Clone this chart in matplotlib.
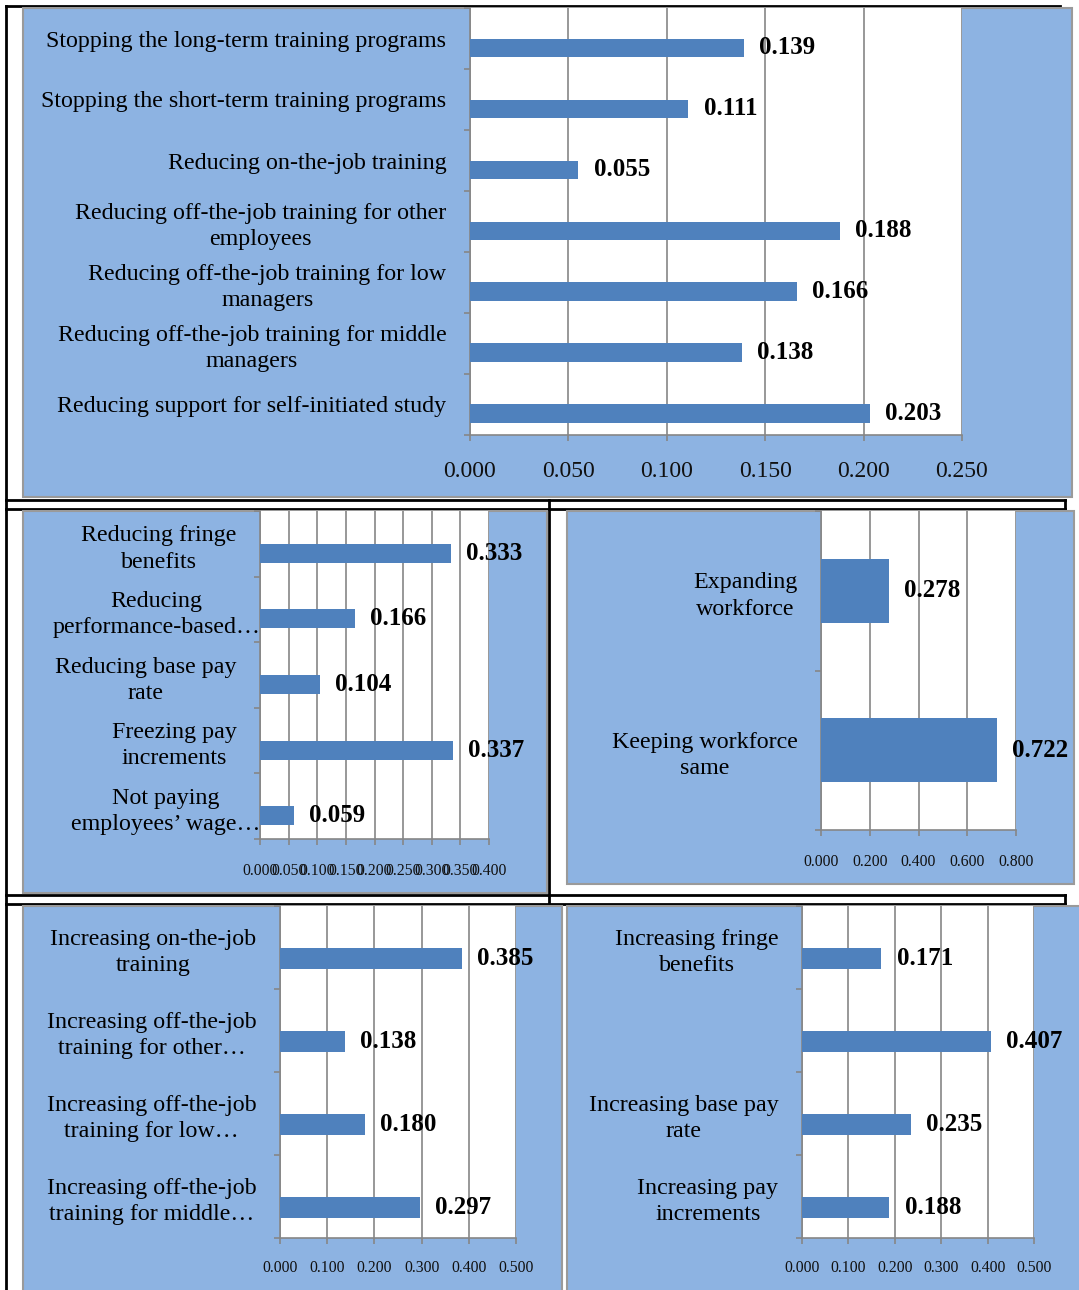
import matplotlib
matplotlib.use('Agg')
import matplotlib.pyplot as plt
from matplotlib.patches import Rectangle
from matplotlib.lines import Line2D
from matplotlib.ticker import FormatStrFormatter
import numpy as np

plt.rcParams['font.family'] = ['Liberation Serif', 'DejaVu Serif']

# ---------------- data ----------------
top_categories = [
    'Stopping the long-term training programs',
    'Stopping the short-term training programs',
    'Reducing on-the-job training',
    'Reducing off-the-job training for other\nemployees',
    'Reducing off-the-job training for low\nmanagers',
    'Reducing off-the-job training for middle\nmanagers',
    'Reducing support for self-initiated study',
]
top_values = [0.139, 0.111, 0.055, 0.188, 0.166, 0.138, 0.203]

pay_categories = [
    'Reducing fringe\nbenefits',
    'Reducing\nperformance-based\u2026',
    'Reducing base pay\nrate',
    'Freezing pay\nincrements',
    'Not paying\nemployees\u2019 wage\u2026',
]
pay_values = [0.333, 0.166, 0.104, 0.337, 0.059]

workforce_categories = ['Expanding\nworkforce', 'Keeping workforce\nsame']
workforce_values = [0.278, 0.722]

inc_training_categories = [
    'Increasing on-the-job\ntraining',
    'Increasing off-the-job\ntraining for other\u2026',
    'Increasing off-the-job\ntraining for low\u2026',
    'Increasing off-the-job\ntraining for middle\u2026',
]
inc_training_values = [0.385, 0.138, 0.180, 0.297]

inc_pay_categories = [
    'Increasing fringe\nbenefits',
    '',
    'Increasing base pay\nrate',
    'Increasing pay\nincrements',
]
inc_pay_values = [0.171, 0.407, 0.235, 0.188]

# ---------------- style ----------------
W, H = 1079, 1290
BG = '#8DB3E2'
BAR = '#4F81BD'
GRID = '#868686'
BORDER = '#9A9A9A'

fig = plt.figure(figsize=(W / 100, H / 100), dpi=100)
fig.patch.set_facecolor('white')


def frect(x0, y0, x1, y1):
    return [x0 / W, 1 - y1 / H, (x1 - x0) / W, (y1 - y0) / H]


def hline(y, x0, x1):
    fig.add_artist(Line2D([x0 / W, x1 / W], [1 - y / H, 1 - y / H],
                          transform=fig.transFigure, color='black', lw=2, zorder=0.5))


def vline(x, y0, y1):
    fig.add_artist(Line2D([x / W, x / W], [1 - y0 / H, 1 - y1 / H],
                          transform=fig.transFigure, color='black', lw=2, zorder=0.5))


# table lines
hline(6, 6, 1060)
hline(500, 6, 1065)
hline(509, 6, 1065)
vline(1065, 500, 509)
hline(895, 6, 1065)
hline(904, 6, 1065)
vline(1065, 895, 904)
vline(6, 6, 1290)
vline(549, 500, 904)


def panel(bg, plot, cats, vals, xmax, step, h, centered, tick_fs, xpad, shift_trunc=0):
    x0, y0, x1, y1 = bg
    fig.add_artist(Rectangle((x0 / W, 1 - y1 / H), (x1 - x0) / W, (y1 - y0) / H,
                             transform=fig.transFigure, facecolor=BG,
                             edgecolor=BORDER, lw=1.5, zorder=1))
    ax = fig.add_axes(frect(*plot))
    ax.set_zorder(3)
    ax.set_facecolor('white')
    n = len(cats)
    pos = np.arange(n)
    if centered:
        ax.barh(pos, vals, height=h, color=BAR, align='center', zorder=3)
        yc = pos
    else:
        ax.barh(pos, vals, height=h, color=BAR, align='edge', zorder=3)
        yc = pos + h / 2
    ax.set_ylim(n - 0.5, -0.5)
    ax.set_xlim(0, xmax)
    ax.set_xticks(np.arange(0, xmax + step / 2, step))
    ax.xaxis.set_major_formatter(FormatStrFormatter('%.3f'))
    ax.set_yticks(pos)
    ax.set_yticklabels(cats, fontsize=17.3)
    ax.set_yticks(np.arange(-0.5, n), minor=True)
    ax.tick_params(axis='y', which='major', length=0, pad=17, labelcolor='black')
    ax.tick_params(axis='y', which='minor', length=4.5, width=1.2, color=GRID, direction='out')
    ax.tick_params(axis='x', which='major', length=4.5, width=1.2, color=GRID,
                   direction='out', labelsize=tick_fs, pad=xpad, labelcolor='#111111')
    pw = plot[2] - plot[0]
    for lab in ax.get_yticklabels():
        lab.set_multialignment('center')
        lab.set_linespacing(1.33)
        if shift_trunc and '\u2026' in lab.get_text():
            lab.set_x(shift_trunc / pw)
    ax.grid(axis='x', color=GRID, lw=1.2)
    ax.set_axisbelow(True)
    for s in ('top', 'right'):
        ax.spines[s].set_visible(False)
    for s in ('left', 'bottom'):
        ax.spines[s].set_color(GRID)
        ax.spines[s].set_linewidth(1.2)
    for v, y in zip(vals, yc):
        ax.annotate(f'{v:.3f}', xy=(v, y), xytext=(11, 0), textcoords='offset points',
                    ha='left', va='center', fontsize=18, fontweight='bold',
                    color='black', annotation_clip=False, zorder=5)
    return ax


panel((23, 8, 1072, 497), (470, 8, 962, 435), top_categories, top_values,
      0.25, 0.05, 0.30, False, 17, 14.5)
panel((23, 511, 547, 893), (260, 511, 489, 839), pay_categories, pay_values,
      0.40, 0.05, 0.29, False, 11.3, 12.5, shift_trunc=24)
panel((567, 511, 1074, 884), (821, 511, 1016, 830), workforce_categories, workforce_values,
      0.80, 0.2, 0.40, True, 11.3, 12.5)
panel((23, 906, 562, 1295), (280, 906, 516, 1238), inc_training_categories, inc_training_values,
      0.50, 0.1, 0.265, False, 11.3, 11.5)
panel((567, 906, 1085, 1295), (802, 906, 1034, 1238), inc_pay_categories, inc_pay_values,
      0.50, 0.1, 0.265, False, 11.3, 11.5)

fig.savefig('out.png', dpi=100, facecolor='white')
